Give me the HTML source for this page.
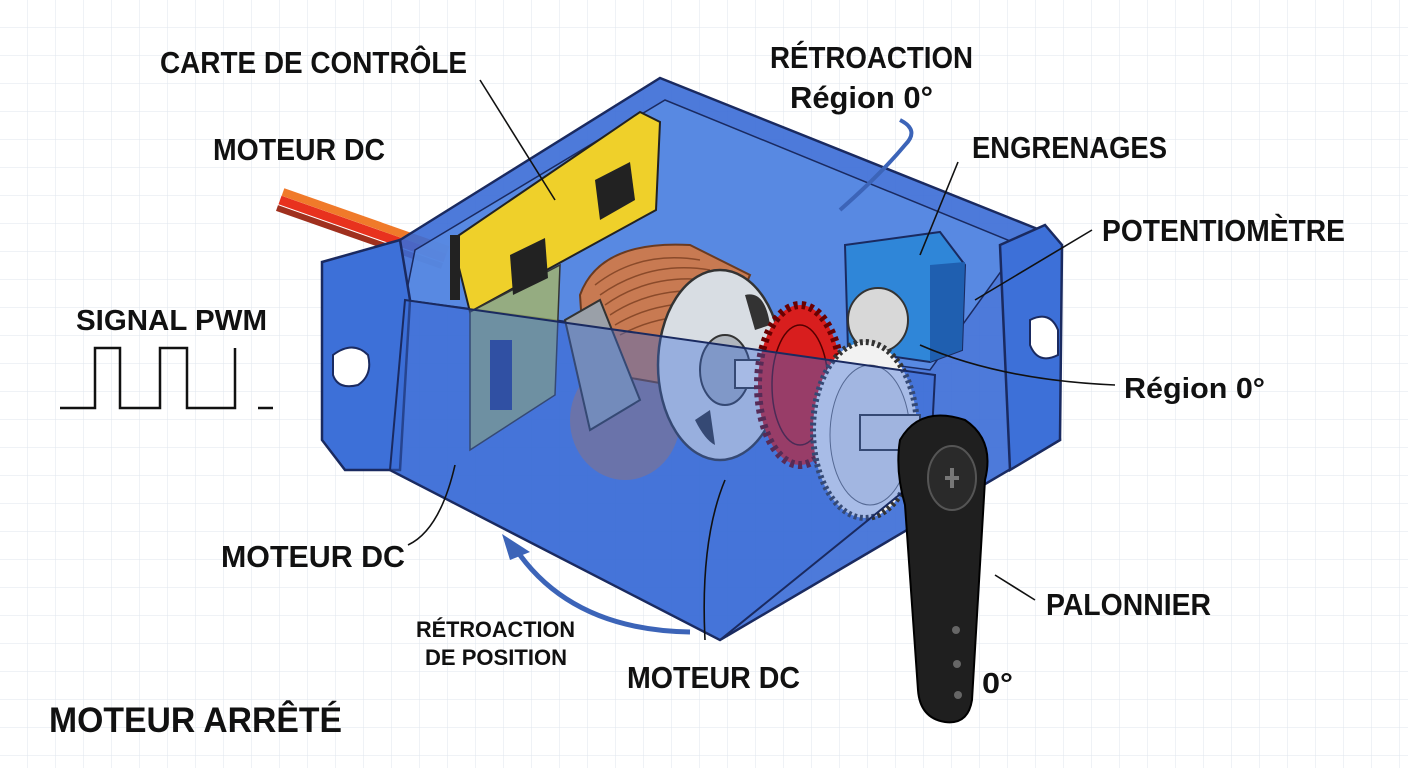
<!DOCTYPE html>
<html><head><meta charset="utf-8"><style>
html,body{margin:0;padding:0;background:#fff}
svg{display:block}
text{font-family:"Liberation Sans",sans-serif;font-weight:bold;fill:#111}
</style></head><body>
<svg width="1408" height="768" viewBox="0 0 1408 768" xmlns="http://www.w3.org/2000/svg">
<defs>
<pattern id="g" width="28" height="28" patternUnits="userSpaceOnUse">
<path d="M28 0V28M0 28H28" fill="none" stroke="#dfe5ee" stroke-width="1"/>
</pattern>
</defs>
<rect width="1408" height="768" fill="#fff"/>
<rect width="1408" height="768" fill="url(#g)"/>

<!-- wires -->
<path d="M280 200 L445 258" stroke="#e8321e" stroke-width="9"/>
<path d="M283 192 L448 250" stroke="#f07a2a" stroke-width="8"/>
<path d="M277 208 L442 266" stroke="#a0301e" stroke-width="6"/>

<!-- box back/top -->
<polygon points="400,240 660,78 1040,230 1060,440 720,640 390,470" fill="#3a6cd6" fill-opacity="0.9" stroke="#1a2a60" stroke-width="2.5"/>
<polygon points="415,250 665,100 1020,245 930,370 405,300" fill="#5b8de4" fill-opacity="0.8" stroke="#1a2a60" stroke-width="1.5"/>
<!-- left flange -->
<polygon points="322,262 400,240 410,300 400,470 345,470 322,440" fill="#3d70d8" stroke="#1a2a60" stroke-width="2.5"/>
<path d="M333 355 q20 -15 35 0 q5 20 -10 30 q-20 5 -25 -10z" fill="#fff" stroke="#1a2a60" stroke-width="2"/>
<!-- right flange -->
<polygon points="1000,245 1045,225 1062,245 1060,440 1010,470" fill="#3d70d8" stroke="#1a2a60" stroke-width="2.5"/>
<path d="M1030 320 q20 -10 28 10 v25 q-20 10 -28 -10z" fill="#fff" stroke="#1a2a60" stroke-width="2"/>

<!-- PCB -->
<polygon points="452,240 640,112 660,122 656,210 470,312" fill="#efd02a" stroke="#222" stroke-width="2"/>
<polygon points="470,312 560,265 555,395 470,450" fill="#a9b860" fill-opacity="0.75" stroke="#333" stroke-width="1.5"/>
<rect x="450" y="235" width="10" height="65" fill="#222"/>
<polygon points="595,180 630,162 635,200 600,220" fill="#222"/>
<polygon points="510,255 545,238 548,278 513,295" fill="#222"/>
<rect x="490" y="340" width="22" height="70" fill="#2a3e80"/>

<!-- motor -->
<ellipse cx="625" cy="420" rx="55" ry="60" fill="#b5785a" fill-opacity="0.6"/>
<path d="M580 295 Q600 240 690 245 L750 275 L700 390 L585 370Z" fill="#c87a52" stroke="#6a3a20" stroke-width="2"/>
<g stroke="#8a4a2a" stroke-width="1.5" fill="none">
<path d="M595 285 Q640 250 700 260"/><path d="M600 295 Q650 260 710 270"/><path d="M605 305 Q655 270 720 282"/><path d="M610 315 Q660 282 728 294"/><path d="M615 325 Q665 295 735 306"/><path d="M620 335 Q670 308 740 318"/>
</g>
<path d="M565 320 L600 300 L640 400 L590 430Z" fill="#9aa0a8" stroke="#333" stroke-width="2"/>
<ellipse cx="720" cy="365" rx="62" ry="95" fill="#d8dde3" stroke="#333" stroke-width="2.5"/>
<ellipse cx="725" cy="370" rx="25" ry="35" fill="#b0b6be" stroke="#333" stroke-width="2"/>
<rect x="735" y="360" width="50" height="28" fill="#eee" stroke="#333" stroke-width="2"/>
<path d="M745 295 q20 -5 25 30 l-15 5z M695 420 q10 20 20 25 l-5 -35z" fill="#333"/>

<!-- red gear -->
<ellipse cx="800" cy="385" rx="42" ry="80" fill="#d81e1e" stroke="#6a0000" stroke-width="8" stroke-dasharray="4 4"/>
<ellipse cx="800" cy="385" rx="28" ry="60" fill="#d81e1e" stroke="#500" stroke-width="1.5"/>
<!-- potentiometer -->
<polygon points="845,245 940,232 965,265 962,350 930,362 848,350" fill="#2f86d8" stroke="#1a2a60" stroke-width="2"/>
<polygon points="930,265 965,262 962,350 930,362" fill="#1f5fb0"/>
<ellipse cx="878" cy="320" rx="30" ry="32" fill="#d8d8d8" stroke="#333" stroke-width="2"/>
<!-- white gear -->
<ellipse cx="865" cy="430" rx="52" ry="88" fill="#f2f2f2" stroke="#333" stroke-width="6" stroke-dasharray="3 3"/>
<ellipse cx="870" cy="435" rx="40" ry="70" fill="#e8e8e8" stroke="#666" stroke-width="1"/>
<rect x="860" y="415" width="60" height="35" fill="#e5e5e5" stroke="#333" stroke-width="2"/>

<!-- front face translucent -->
<polygon points="405,300 935,375 930,470 720,640 390,470" fill="#3a6cd6" fill-opacity="0.4" stroke="#1a2a60" stroke-width="2"/>

<!-- horn -->
<path d="M900 440 Q920 405 965 420 Q995 440 985 480 L972 700 Q968 725 945 722 Q920 718 918 690 L905 505 Q895 470 900 440Z" fill="#1f1f1f" stroke="#000" stroke-width="2"/>
<ellipse cx="952" cy="478" rx="24" ry="32" fill="#2a2a2a" stroke="#555" stroke-width="2"/>
<path d="M945 478 h14 M952 468 v20" stroke="#777" stroke-width="4"/>
<circle cx="956" cy="630" r="4" fill="#666"/><circle cx="957" cy="664" r="4" fill="#666"/><circle cx="958" cy="695" r="4" fill="#666"/>

<!-- PWM -->
<path d="M60 408 H95 V348 H120 V408 H160 V348 H187 V408 H235 V348" fill="none" stroke="#111" stroke-width="2.5"/>
<path d="M258 408 H273" stroke="#111" stroke-width="2.5"/>

<!-- arrow -->
<path d="M690 632 Q570 630 515 548" fill="none" stroke="#3c64b8" stroke-width="5"/>
<polygon points="502,534 530,552 510,560" fill="#3c64b8"/>
<path d="M900 120 Q920 130 905 145 Q880 175 840 210" fill="none" stroke="#3c64b8" stroke-width="4"/>

<!-- leaders -->
<g fill="none" stroke="#111" stroke-width="1.6">
<path d="M480 80 L555 200"/>
<path d="M408 545 Q440 530 455 465"/>
<path d="M705 640 Q700 540 725 480"/>
<path d="M958 162 L920 255"/>
<path d="M1092 230 L975 300"/>
<path d="M1115 385 Q1000 380 920 345"/>
<path d="M1035 600 L995 575"/>
</g>

<!-- labels -->
<g lengthAdjust="spacingAndGlyphs">
<text x="160" y="73" font-size="31" textLength="307" lengthAdjust="spacingAndGlyphs">CARTE DE CONTRÔLE</text>
<text x="213" y="160" font-size="31" textLength="172" lengthAdjust="spacingAndGlyphs">MOTEUR DC</text>
<text x="770" y="68" font-size="31" textLength="203" lengthAdjust="spacingAndGlyphs">RÉTROACTION</text>
<text x="790" y="108" font-size="31" textLength="143" lengthAdjust="spacingAndGlyphs">Région 0°</text>
<text x="972" y="158" font-size="31" textLength="195" lengthAdjust="spacingAndGlyphs">ENGRENAGES</text>
<text x="1102" y="241" font-size="31" textLength="243" lengthAdjust="spacingAndGlyphs">POTENTIOMÈTRE</text>
<text x="76" y="330" font-size="29" textLength="191" lengthAdjust="spacingAndGlyphs">SIGNAL PWM</text>
<text x="1124" y="398" font-size="29" textLength="141" lengthAdjust="spacingAndGlyphs">Région 0°</text>
<text x="221" y="567" font-size="31" textLength="184" lengthAdjust="spacingAndGlyphs">MOTEUR DC</text>
<text x="1046" y="615" font-size="31" textLength="165" lengthAdjust="spacingAndGlyphs">PALONNIER</text>
<text x="416" y="637" font-size="22" textLength="159" lengthAdjust="spacingAndGlyphs">RÉTROACTION</text>
<text x="425" y="665" font-size="22" textLength="142" lengthAdjust="spacingAndGlyphs">DE POSITION</text>
<text x="627" y="688" font-size="31" textLength="173" lengthAdjust="spacingAndGlyphs">MOTEUR DC</text>
<text x="982" y="693" font-size="29" textLength="31" lengthAdjust="spacingAndGlyphs">0°</text>
<text x="49" y="732" font-size="35" textLength="293" lengthAdjust="spacingAndGlyphs">MOTEUR ARRÊTÉ</text>
</g>
</svg>
</body></html>
